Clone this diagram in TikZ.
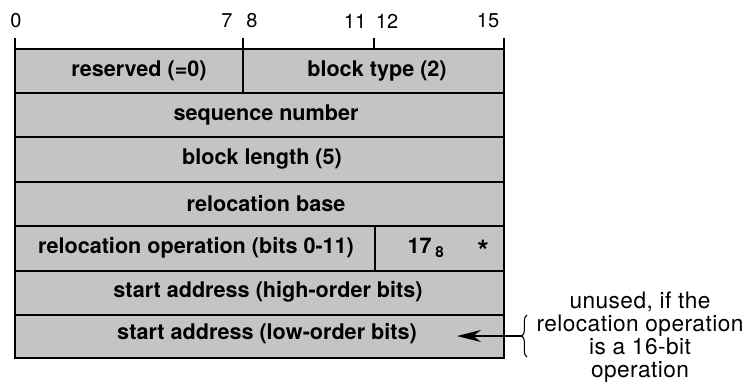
\documentclass[tikz,border=0pt]{standalone}
\usepackage{fontspec}
\setmainfont{TeX Gyre Heros}
\usetikzlibrary{arrows.meta,decorations.pathreplacing}
\definecolor{cellgray}{RGB}{196,196,196}
\begin{document}
\begin{tikzpicture}[x=0.75pt,y=-0.75pt,
  frame/.style={line width=2pt},
  field/.style={font=\fontsize{16.2}{19}\selectfont\bfseries, inner sep=0pt},
  bitnum/.style={font=\fontsize{15}{18}\selectfont, inner sep=0pt},
  note/.style={font=\fontsize{17}{17.2}\selectfont\addfontfeatures{LetterSpace=2}, align=center, inner sep=0pt}]
\useasboundingbox (0,0) rectangle (745,383);
% cells
\fill[cellgray] (15,49) rectangle (504,358);
\foreach \y in {93,137,182,226,271,315} \draw[frame] (15,\y) -- (504,\y);
\draw[frame] (15,49) -- (504,49);
\draw[frame,line cap=rect] (15,39) -- (15,358) -- (504,358) -- (504,39);
\draw[frame] (243,38) -- (243,93);
\draw[frame] (374,38) -- (374,49);
\draw[frame] (375,226) -- (375,271);
% bit numbers
\node[bitnum] (n0) at (16,21) {0};
\node[bitnum] (n7) at (227,21) {7};
\node[bitnum] (n8) at (252,21) {8};
\node[bitnum] (n11) at (355,21) {11};
\node[bitnum] (n12) at (387,21) {12};
\node[bitnum] (n15) at (488,21) {15};
% field labels
\node[field] (res) at (139,71) {reserved (=0)};
\node[field] (btype) at (377,71) {block type (2)};
\node[field] (seq) at (266,115) {sequence number};
\node[field] (blen) at (262,159) {block length (5)};
\node[field] (rbase) at (266,204) {relocation base};
\node[field] (rop) at (196,248) {relocation operation (bits 0-11)};
\node[field] (r17) at (426,248) {17\,\textsubscript{8}};
\node[field, font=\fontsize{22}{22}\selectfont\bfseries] (star) at (483,251) {*};
\node[field] (sah) at (268,292) {start address (high-order bits)};
\node[field] (sal) at (267,334) {start address (low-order bits)};
% note
\node[note] (note) at (640,337) {unused, if the\\relocation operation\\is a 16-bit\\operation};
\draw[line width=0.8pt, decorate, decoration={brace, amplitude=4pt}] (527,357) -- (527,315);
\coordinate (btip) at (523,336);
\coordinate (atip) at (457,336);
\draw[line width=1.2pt, -{Stealth[length=18pt,width=9pt]}] (btip) -- (atip);
\end{tikzpicture}
\end{document}
